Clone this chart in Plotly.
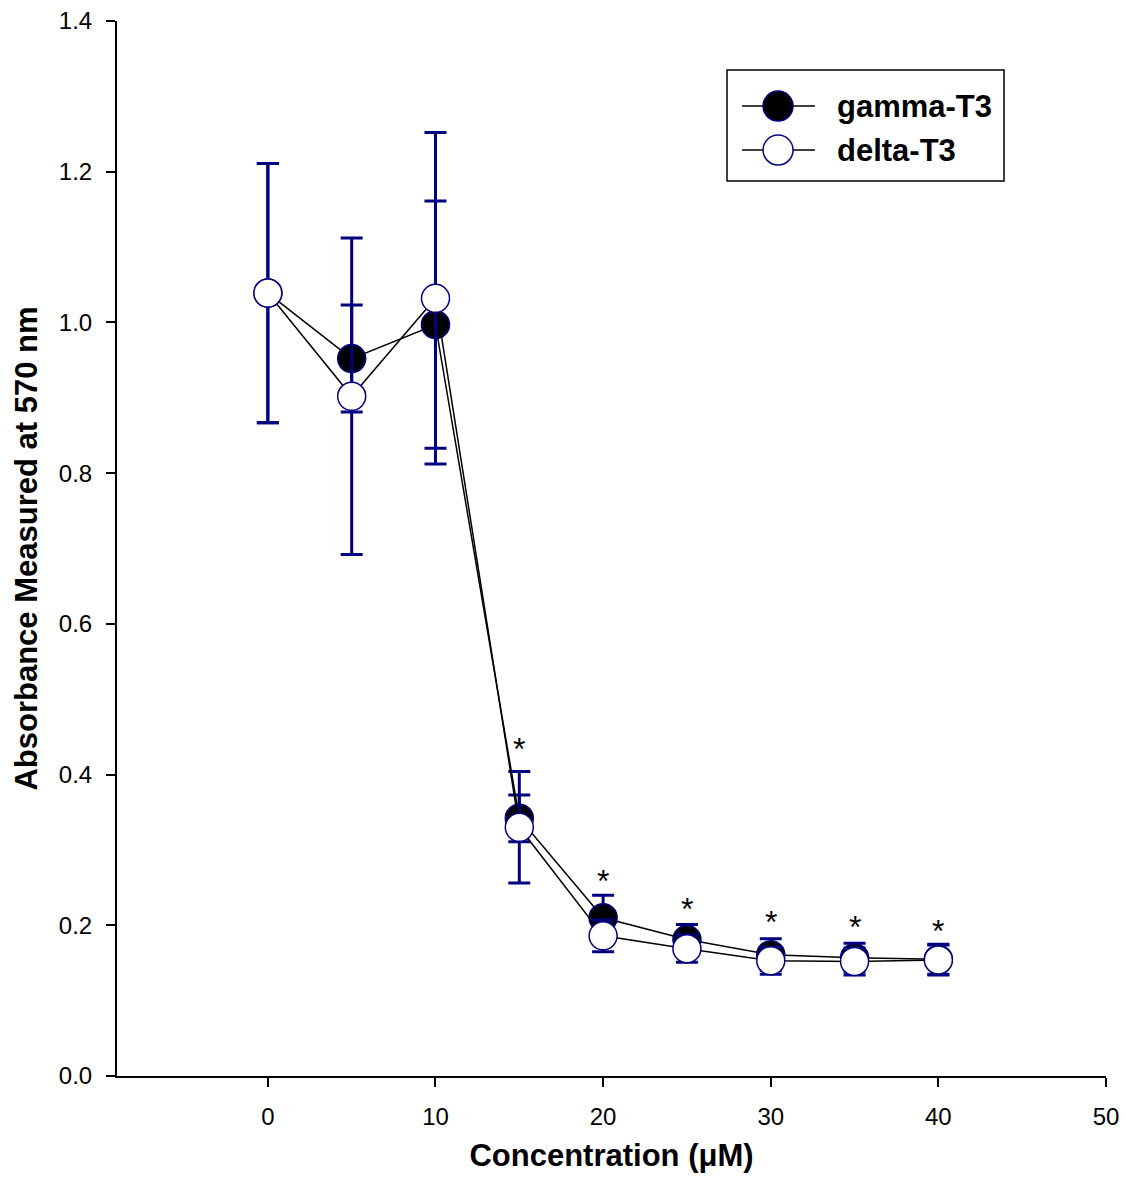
import plotly.graph_objects as go

conc = [0, 5, 10, 15, 20, 25, 30, 35, 40]
gamma_mean = [1.039, 0.952, 0.997, 0.342, 0.210, 0.181, 0.161, 0.157, 0.155]
gamma_err = [0.172, 0.071, 0.164, 0.031, 0.030, 0.020, 0.021, 0.019, 0.020]
delta_mean = [1.039, 0.902, 1.032, 0.330, 0.186, 0.169, 0.153, 0.152, 0.154]
delta_err = [0.172, 0.210, 0.220, 0.074, 0.021, 0.018, 0.018, 0.018, 0.020]
star_x = [15, 20, 25, 30, 35, 40]
star_y = [0.442, 0.267, 0.230, 0.212, 0.206, 0.200]
series_names = ["gamma-T3", "delta-T3"]

x_ticks = [0, 10, 20, 30, 40, 50]
y_ticks = [0.0, 0.2, 0.4, 0.6, 0.8, 1.0, 1.2, 1.4]

NAVY = "#000080"
FONT = "Liberation Sans, Arial, sans-serif"
fills = ["black", "white"]

fig = go.Figure()
fig.add_trace(go.Scatter(
    x=conc, y=gamma_mean, mode="lines+markers", name=series_names[0],
    line=dict(color="black", width=1.5),
    marker=dict(size=28, color=fills[0], line=dict(color=NAVY, width=1.5)),
    error_y=dict(type="data", array=gamma_err, color=NAVY, thickness=3, width=11),
    showlegend=False,
))
fig.add_trace(go.Scatter(
    x=conc, y=delta_mean, mode="lines+markers", name=series_names[1],
    line=dict(color="black", width=1.5),
    marker=dict(size=28, color=fills[1], line=dict(color=NAVY, width=1.5)),
    error_y=dict(type="data", array=delta_err, color=NAVY, thickness=3, width=11),
    showlegend=False,
))

for sx, sy in zip(star_x, star_y):
    fig.add_annotation(x=sx, y=sy, text="*", showarrow=False,
                       font=dict(size=32, color="black", family=FONT),
                       yanchor="middle", yshift=-6)

# Custom legend (drawn on an overlay axis in plot-area fractions)
leg_box = dict(x0=0.6168, x1=0.8969, y0=0.8483, y1=0.9536)
leg_rows = [0.9194, 0.8777]
leg_line_x = [0.632, 0.7058]
leg_marker_x = 0.6684
leg_text_x = 0.726
fig.add_shape(type="rect", xref="paper", yref="paper", **leg_box,
              line=dict(color="black", width=1.5), fillcolor="white", layer="below")
for name, fill, ry in zip(series_names, fills, leg_rows):
    fig.add_trace(go.Scatter(x=leg_line_x, y=[ry, ry], mode="lines",
                             line=dict(color="black", width=1.5),
                             xaxis="x2", yaxis="y2", showlegend=False, hoverinfo="skip"))
    fig.add_trace(go.Scatter(x=[leg_marker_x], y=[ry], mode="markers",
                             marker=dict(size=30, color=fill, line=dict(color=NAVY, width=1.5)),
                             xaxis="x2", yaxis="y2", showlegend=False, hoverinfo="skip"))
    fig.add_annotation(x=leg_text_x, y=ry, xref="paper", yref="paper", text=f"<b>{name}</b>",
                       showarrow=False, xanchor="left", yanchor="middle",
                       font=dict(size=31, family=FONT, color="black"))

fig.update_layout(
    width=1126, height=1184,
    margin=dict(l=117, r=20, t=21, b=108, autoexpand=False),
    plot_bgcolor="white", paper_bgcolor="white",
    font=dict(family=FONT, color="black"),
    showlegend=False,
    xaxis2=dict(overlaying="x", range=[0, 1], visible=False, fixedrange=True),
    yaxis2=dict(overlaying="y", range=[0, 1], visible=False, fixedrange=True),
)
fig.update_layout(xaxis=dict(
    range=[-9, 50], tickvals=x_ticks, ticktext=[str(v) for v in x_ticks],
    showgrid=False, zeroline=False, showline=True, linecolor="black", linewidth=2,
    ticks="outside", ticklen=9, tickwidth=2, tickcolor="black", ticklabelstandoff=9,
    tickfont=dict(size=24, family=FONT, color="black"), automargin=False,
    title=dict(text="<b>Concentration (μM)</b>", font=dict(size=31, family=FONT, color="black"), standoff=16),
))
fig.update_layout(yaxis=dict(
    range=[0, 1.4], tickvals=y_ticks, ticktext=[f"{v:.1f}" for v in y_ticks],
    showgrid=False, zeroline=False, showline=True, linecolor="black", linewidth=2,
    ticks="outside", ticklen=9, tickwidth=2, tickcolor="black", ticklabelstandoff=9,
    tickfont=dict(size=24, family=FONT, color="black"), automargin=False,
    title=dict(text="<b>Absorbance Measured at 570 nm</b>", font=dict(size=31, family=FONT, color="black"), standoff=12),
))

fig.write_html("out.html")
